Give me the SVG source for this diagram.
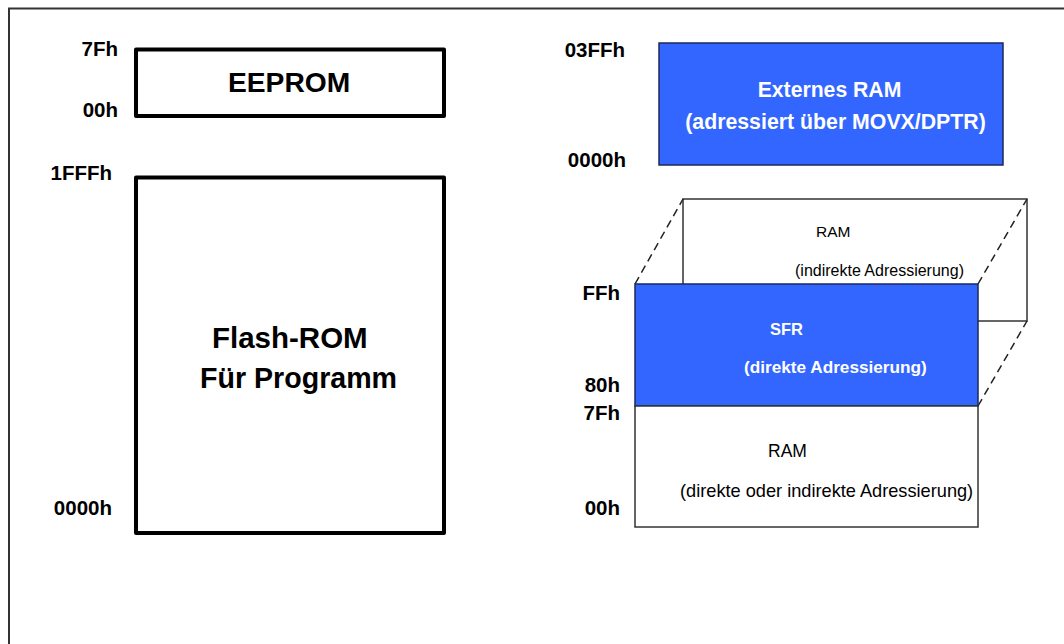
<svg xmlns="http://www.w3.org/2000/svg" width="1064" height="644" viewBox="0 0 1064 644">
  <style>
    .addr { font-family: "Liberation Sans", Arial, sans-serif; font-weight: bold; font-size: 20.5px; fill: #000; text-anchor: end; }
    .big { font-family: "Liberation Sans", Arial, sans-serif; font-weight: bold; fill: #000; }
    .wb { font-family: "Liberation Sans", Arial, sans-serif; font-weight: bold; fill: #fff; }
    .reg { font-family: "Liberation Sans", Arial, sans-serif; fill: #000; }
    .heavy { fill: #fff; stroke: #000; stroke-width: 4; stroke-linejoin: round; }
    .thin { fill: #fff; stroke: #333; stroke-width: 1.5; }
    .blue { fill: #3366ff; stroke: #1c2a5c; stroke-width: 1.5; }
    .dash { stroke: #222; stroke-width: 1.5; stroke-dasharray: 8 5; fill: none; }
  </style>

  <rect width="1064" height="644" fill="#fff"/>
  <!-- outer frame -->
  <rect x="9" y="8.5" width="1080" height="660" fill="none" stroke="#333" stroke-width="2"/>

  <!-- program side -->
  <g id="eeprom">
    <rect class="heavy" x="136" y="49.5" width="308" height="66.5"/>
    <text class="big" x="228" y="92" font-size="28.2">EEPROM</text>
    <text class="addr" x="118" y="56">7Fh</text>
    <text class="addr" x="118" y="117">00h</text>
  </g>

  <g id="flash">
    <rect class="heavy" x="136" y="177.5" width="308" height="355.5"/>
    <text class="big" x="212" y="348" font-size="29.5">Flash-ROM</text>
    <text class="big" x="200" y="388" font-size="28.6">Für Programm</text>
    <text class="addr" x="112" y="180">1FFFh</text>
    <text class="addr" x="112" y="515">0000h</text>
  </g>

  <!-- data side -->
  <g id="ext-ram">
    <rect class="blue" x="659" y="43" width="344" height="122"/>
    <text class="wb" x="829.5" y="97" font-size="21.2" text-anchor="middle">Externes RAM</text>
    <text class="wb" x="835.5" y="129" font-size="21.3" text-anchor="middle">(adressiert über MOVX/DPTR)</text>
    <text class="addr" x="625" y="57">03FFh</text>
    <text class="addr" x="626" y="167">0000h</text>
  </g>

  <g id="ram-upper">
    <rect class="thin" x="683" y="199" width="344" height="122"/>
    <text class="reg" x="816" y="237" font-size="15.5">RAM</text>
    <text class="reg" x="795" y="276" font-size="16">(indirekte Adressierung)</text>
  </g>

  <g id="connectors">
    <line class="dash" x1="635" y1="284" x2="683" y2="199"/>
    <line class="dash" x1="978" y1="284" x2="1027" y2="199"/>
    <line class="dash" x1="978" y1="406" x2="1027" y2="321"/>
  </g>

  <g id="sfr">
    <rect class="blue" x="635" y="284" width="343" height="122"/>
    <text class="wb" x="770" y="335" font-size="16.5">SFR</text>
    <text class="wb" x="744" y="373" font-size="17.2">(direkte Adressierung)</text>
    <text class="addr" x="620" y="300">FFh</text>
    <text class="addr" x="620" y="392">80h</text>
  </g>

  <g id="ram-lower">
    <rect class="thin" x="635" y="406" width="343" height="121"/>
    <text class="reg" x="768" y="457" font-size="17.5">RAM</text>
    <text class="reg" x="680" y="497" font-size="18.2">(direkte oder indirekte Adressierung)</text>
    <text class="addr" x="620" y="420">7Fh</text>
    <text class="addr" x="620" y="515">00h</text>
  </g>
</svg>
